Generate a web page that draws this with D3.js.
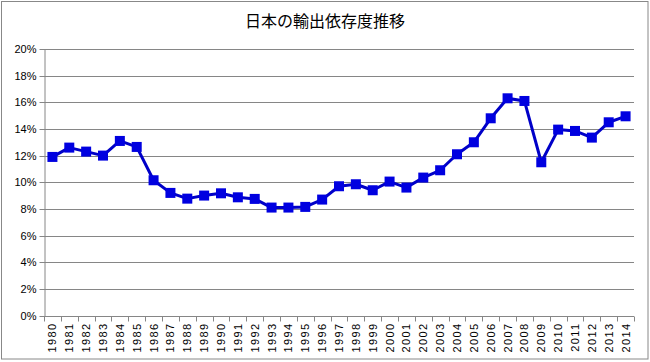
<!DOCTYPE html>
<html><head><meta charset="utf-8">
<script src="https://cdn.jsdelivr.net/npm/d3@7"></script>
<style>body{margin:0;background:#fff}svg{display:block}</style>
</head><body>
<script>
const years = d3.range(1980, 2015).map(String);
const values = [11.9,12.6,12.3,12.0,13.1,12.65,10.15,9.2,8.77,9.0,9.17,8.87,8.75,8.1,8.1,8.15,8.7,9.7,9.85,9.4,10.05,9.6,10.35,10.9,12.1,13.0,14.8,16.3,16.1,11.5,13.95,13.85,13.35,14.5,14.95];
const yTicks = [0,2,4,6,8,10,12,14,16,18,20];
const title = "日本の輸出依存度推移";

const W = 650, H = 362;
const m = {left:44, right:16, top:49, bottom:46};
const svg = d3.select("body").append("svg").attr("width", W).attr("height", H);
svg.append("rect").attr("x",1.5).attr("y",1.5).attr("width",646.5).attr("height",357.5)
  .attr("fill","#fff").attr("stroke","#888").attr("stroke-width",1);

svg.append("text").attr("x",325).attr("y",27).attr("text-anchor","middle")
  .attr("font-family","'Noto Sans CJK JP', sans-serif").attr("font-size",16).attr("fill","#000").text(title);

const x = d3.scaleBand().domain(years).range([m.left, 634]);
const y = d3.scaleLinear().domain([0,20]).range([315.5, 49]);

// grid
svg.append("g").selectAll("line").data(yTicks.slice(1)).join("line")
  .attr("x1", m.left).attr("x2", 634)
  .attr("y1", d=>Math.round(y(d))+0.5).attr("y2", d=>Math.round(y(d))+0.5)
  .attr("stroke","#868686").attr("stroke-width",1);

// y axis
const ya = svg.append("g").attr("transform",`translate(${m.left+0.5},0)`)
  .call(d3.axisLeft(y).tickValues(yTicks).tickFormat(d=>d+"%").tickSize(5).tickSizeOuter(0));
ya.select(".domain").attr("stroke","#868686");
ya.selectAll(".tick line").attr("stroke","#868686");
ya.selectAll(".tick").attr("transform", d=>`translate(0,${Math.round(y(d))+0.5})`);
ya.selectAll("text").attr("font-family","'Liberation Sans', Arial, sans-serif").attr("font-size",11).attr("fill","#000").attr("x",-8);

// x axis baseline and ticks at band boundaries
const base = Math.round(y(0))+0.5;
const xg = svg.append("g");
xg.append("line").attr("x1",m.left).attr("x2",634).attr("y1",base).attr("y2",base).attr("stroke","#868686");
const bounds = years.map(d=>x(d)).concat([x(years[years.length-1])+x.bandwidth()]);
xg.selectAll("line.t").data(bounds).join("line").attr("class","t")
  .attr("x1",d=>Math.round(d)+0.5).attr("x2",d=>Math.round(d)+0.5).attr("y1",base).attr("y2",base+5)
  .attr("stroke","#868686");
xg.selectAll("text").data(years).join("text")
  .attr("transform", d=>`translate(${x(d)+x.bandwidth()/2+4},${base+6}) rotate(-90)`)
  .attr("text-anchor","end")
  .attr("letter-spacing","1.4px")
  .attr("font-family","'Liberation Sans', Arial, sans-serif").attr("font-size",11).attr("fill","#000")
  .text(d=>d);

// line
const cx = d=>x(d)+x.bandwidth()/2;
const data = years.map((d,i)=>({year:d, v:values[i]}));
svg.append("path").datum(data)
  .attr("d", d3.line().x(d=>cx(d.year)).y(d=>y(d.v)))
  .attr("fill","none").attr("stroke","#0000C8").attr("stroke-width",3).attr("stroke-linejoin","round");
const s = 10;
svg.append("g").selectAll("rect").data(data).join("rect")
  .attr("x", d=>cx(d.year)-s/2).attr("y", d=>y(d.v)-s/2).attr("width",s).attr("height",s)
  .attr("fill","#0000E0");
</script>
</body></html>
